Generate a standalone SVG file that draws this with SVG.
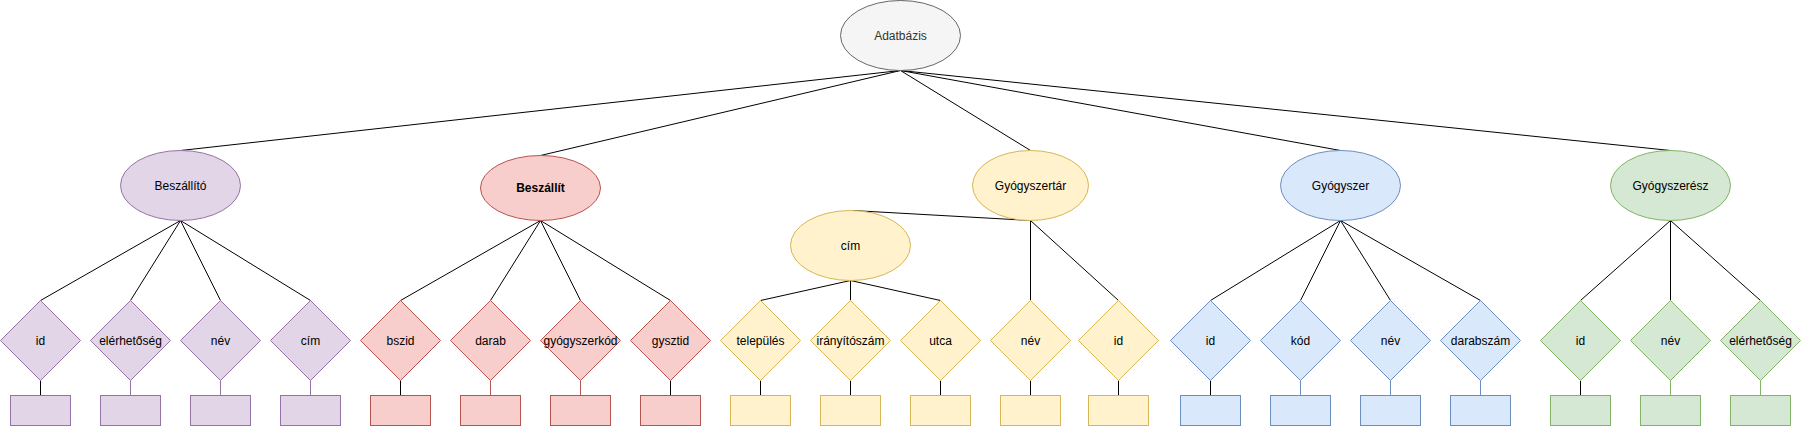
<svg xmlns="http://www.w3.org/2000/svg" width="1801" height="426" viewBox="0 0 1801 426">
<style>
text{font-family:"Liberation Sans",Arial,sans-serif;font-size:12px;fill:#000;text-anchor:middle;dominant-baseline:central}
.e line{stroke:#000;stroke-width:1;fill:none}
.gray{fill:#f5f5f5;stroke:#666666}
.pur{fill:#e1d5e7;stroke:#9673a6}
.red{fill:#f8cecc;stroke:#b85450}
.yel{fill:#fff2cc;stroke:#d6b656}
.blu{fill:#dae8fc;stroke:#6c8ebf}
.grn{fill:#d5e8d4;stroke:#82b366}
.e line.cp{stroke:#9673a6}
.e line.cr{stroke:#b85450}
.e line.cb{stroke:#6c8ebf}
.e line.cg{stroke:#82b366}
</style>
<rect width="1801" height="426" fill="#ffffff"/>
<g id="connectors" class="e">
<line x1="900.5" y1="70.5" x2="180.5" y2="150.5"/>
<line x1="900.5" y1="70.5" x2="540.5" y2="155.5"/>
<line x1="900.5" y1="70.5" x2="1030.5" y2="150.5"/>
<line x1="900.5" y1="70.5" x2="1340.5" y2="150.5"/>
<line x1="900.5" y1="70.5" x2="1670.5" y2="150.5"/>
<line x1="180.5" y1="220.5" x2="40.5" y2="300.5"/>
<line x1="180.5" y1="220.5" x2="130.5" y2="300.5"/>
<line x1="180.5" y1="220.5" x2="220.5" y2="300.5"/>
<line x1="180.5" y1="220.5" x2="310.5" y2="300.5"/>
<line x1="540.5" y1="220.5" x2="400.5" y2="300.5"/>
<line x1="540.5" y1="220.5" x2="490.5" y2="300.5"/>
<line x1="540.5" y1="220.5" x2="580.5" y2="300.5"/>
<line x1="540.5" y1="220.5" x2="670.5" y2="300.5"/>
<line x1="852.5" y1="210.5" x2="1030.5" y2="220.5"/>
<line x1="1030.5" y1="220.5" x2="1030.5" y2="300.5"/>
<line x1="1030.5" y1="220.5" x2="1118.5" y2="300.5"/>
<line x1="850.5" y1="280.5" x2="760.5" y2="300.5"/>
<line x1="850.5" y1="280.5" x2="850.5" y2="300.5"/>
<line x1="850.5" y1="280.5" x2="940.5" y2="300.5"/>
<line x1="1340.5" y1="220.5" x2="1210.5" y2="300.5"/>
<line x1="1340.5" y1="220.5" x2="1300.5" y2="300.5"/>
<line x1="1340.5" y1="220.5" x2="1390.5" y2="300.5"/>
<line x1="1340.5" y1="220.5" x2="1480.5" y2="300.5"/>
<line x1="1670.5" y1="220.5" x2="1580.5" y2="300.5"/>
<line x1="1670.5" y1="220.5" x2="1670.5" y2="300.5"/>
<line x1="1670.5" y1="220.5" x2="1760.5" y2="300.5"/>
<line x1="40.5" y1="380.5" x2="40.5" y2="395.5"/>
<line class="cp" x1="130.5" y1="380.5" x2="130.5" y2="395.5"/>
<line class="cp" x1="220.5" y1="380.5" x2="220.5" y2="395.5"/>
<line class="cp" x1="310.5" y1="380.5" x2="310.5" y2="395.5"/>
<line x1="400.5" y1="380.5" x2="400.5" y2="395.5"/>
<line class="cr" x1="490.5" y1="380.5" x2="490.5" y2="395.5"/>
<line class="cr" x1="580.5" y1="380.5" x2="580.5" y2="395.5"/>
<line x1="670.5" y1="380.5" x2="670.5" y2="395.5"/>
<line x1="760.5" y1="380.5" x2="760.5" y2="395.5"/>
<line x1="850.5" y1="380.5" x2="850.5" y2="395.5"/>
<line x1="940.5" y1="380.5" x2="940.5" y2="395.5"/>
<line x1="1030.5" y1="380.5" x2="1030.5" y2="395.5"/>
<line x1="1118.5" y1="380.5" x2="1118.5" y2="395.5"/>
<line x1="1210.5" y1="380.5" x2="1210.5" y2="395.5"/>
<line class="cb" x1="1300.5" y1="380.5" x2="1300.5" y2="395.5"/>
<line class="cb" x1="1390.5" y1="380.5" x2="1390.5" y2="395.5"/>
<line class="cb" x1="1480.5" y1="380.5" x2="1480.5" y2="395.5"/>
<line x1="1580.5" y1="380.5" x2="1580.5" y2="395.5"/>
<line class="cg" x1="1670.5" y1="380.5" x2="1670.5" y2="395.5"/>
<line class="cg" x1="1760.5" y1="380.5" x2="1760.5" y2="395.5"/>
</g>
<g id="adatbazis"><ellipse class="gray" cx="900.5" cy="35.5" rx="60" ry="35"/><text x="900.5" y="35.5" style="fill:#333333">Adatbázis</text></g>
<g id="beszallito"><ellipse class="pur" cx="180.5" cy="185.5" rx="60" ry="35"/><text x="180.5" y="185.5">Beszállító</text></g>
<g id="beszallit"><ellipse class="red" cx="540.5" cy="188" rx="60" ry="32.5"/><text x="540.5" y="188" font-weight="bold">Beszállít</text></g>
<g id="gyogyszertar"><ellipse class="yel" cx="1030.5" cy="185.5" rx="58" ry="35"/><text x="1030.5" y="185.5">Gyógyszertár</text></g>
<g id="gyt-cim"><ellipse class="yel" cx="850.5" cy="245.5" rx="60" ry="35"/><text x="850.5" y="245.5">cím</text></g>
<g id="gyogyszer"><ellipse class="blu" cx="1340.5" cy="185.5" rx="60" ry="35"/><text x="1340.5" y="185.5">Gyógyszer</text></g>
<g id="gyogyszeresz"><ellipse class="grn" cx="1670.5" cy="185.5" rx="60" ry="35"/><text x="1670.5" y="185.5">Gyógyszerész</text></g>

<g id="b-id"><path class="pur" d="M40.5 300.5L80.5 340.5L40.5 380.5L0.5 340.5Z"/><text x="40.5" y="340.5">id</text><rect class="pur" x="10.5" y="395.5" width="60" height="30"/></g>
<g id="b-elerhetoseg"><path class="pur" d="M130.5 300.5L170.5 340.5L130.5 380.5L90.5 340.5Z"/><text x="130.5" y="340.5">elérhetőség</text><rect class="pur" x="100.5" y="395.5" width="60" height="30"/></g>
<g id="b-nev"><path class="pur" d="M220.5 300.5L260.5 340.5L220.5 380.5L180.5 340.5Z"/><text x="220.5" y="340.5">név</text><rect class="pur" x="190.5" y="395.5" width="60" height="30"/></g>
<g id="b-cim"><path class="pur" d="M310.5 300.5L350.5 340.5L310.5 380.5L270.5 340.5Z"/><text x="310.5" y="340.5">cím</text><rect class="pur" x="280.5" y="395.5" width="60" height="30"/></g>

<g id="r-bszid"><path class="red" d="M400.5 300.5L440.5 340.5L400.5 380.5L360.5 340.5Z"/><text x="400.5" y="340.5">bszid</text><rect class="red" x="370.5" y="395.5" width="60" height="30"/></g>
<g id="r-darab"><path class="red" d="M490.5 300.5L530.5 340.5L490.5 380.5L450.5 340.5Z"/><text x="490.5" y="340.5">darab</text><rect class="red" x="460.5" y="395.5" width="60" height="30"/></g>
<g id="r-gyogyszerkod"><path class="red" d="M580.5 300.5L620.5 340.5L580.5 380.5L540.5 340.5Z"/><text x="580.5" y="340.5">gyógyszerkód</text><rect class="red" x="550.5" y="395.5" width="60" height="30"/></g>
<g id="r-gysztid"><path class="red" d="M670.5 300.5L710.5 340.5L670.5 380.5L630.5 340.5Z"/><text x="670.5" y="340.5">gysztid</text><rect class="red" x="640.5" y="395.5" width="60" height="30"/></g>

<g id="y-telepules"><path class="yel" d="M760.5 300.5L800.5 340.5L760.5 380.5L720.5 340.5Z"/><text x="760.5" y="340.5">település</text><rect class="yel" x="730.5" y="395.5" width="60" height="30"/></g>
<g id="y-iranyitoszam"><path class="yel" d="M850.5 300.5L890.5 340.5L850.5 380.5L810.5 340.5Z"/><text x="850.5" y="340.5">irányítószám</text><rect class="yel" x="820.5" y="395.5" width="60" height="30"/></g>
<g id="y-utca"><path class="yel" d="M940.5 300.5L980.5 340.5L940.5 380.5L900.5 340.5Z"/><text x="940.5" y="340.5">utca</text><rect class="yel" x="910.5" y="395.5" width="60" height="30"/></g>
<g id="y-nev"><path class="yel" d="M1030.5 300.5L1070.5 340.5L1030.5 380.5L990.5 340.5Z"/><text x="1030.5" y="340.5">név</text><rect class="yel" x="1000.5" y="395.5" width="60" height="30"/></g>
<g id="y-id"><path class="yel" d="M1118.5 300.5L1158.5 340.5L1118.5 380.5L1078.5 340.5Z"/><text x="1118.5" y="340.5">id</text><rect class="yel" x="1088.5" y="395.5" width="60" height="30"/></g>

<g id="g-id"><path class="blu" d="M1210.5 300.5L1250.5 340.5L1210.5 380.5L1170.5 340.5Z"/><text x="1210.5" y="340.5">id</text><rect class="blu" x="1180.5" y="395.5" width="60" height="30"/></g>
<g id="g-kod"><path class="blu" d="M1300.5 300.5L1340.5 340.5L1300.5 380.5L1260.5 340.5Z"/><text x="1300.5" y="340.5">kód</text><rect class="blu" x="1270.5" y="395.5" width="60" height="30"/></g>
<g id="g-nev"><path class="blu" d="M1390.5 300.5L1430.5 340.5L1390.5 380.5L1350.5 340.5Z"/><text x="1390.5" y="340.5">név</text><rect class="blu" x="1360.5" y="395.5" width="60" height="30"/></g>
<g id="g-darabszam"><path class="blu" d="M1480.5 300.5L1520.5 340.5L1480.5 380.5L1440.5 340.5Z"/><text x="1480.5" y="340.5">darabszám</text><rect class="blu" x="1450.5" y="395.5" width="60" height="30"/></g>

<g id="s-id"><path class="grn" d="M1580.5 300.5L1620.5 340.5L1580.5 380.5L1540.5 340.5Z"/><text x="1580.5" y="340.5">id</text><rect class="grn" x="1550.5" y="395.5" width="60" height="30"/></g>
<g id="s-nev"><path class="grn" d="M1670.5 300.5L1710.5 340.5L1670.5 380.5L1630.5 340.5Z"/><text x="1670.5" y="340.5">név</text><rect class="grn" x="1640.5" y="395.5" width="60" height="30"/></g>
<g id="s-elerhetoseg"><path class="grn" d="M1760.5 300.5L1800.5 340.5L1760.5 380.5L1720.5 340.5Z"/><text x="1760.5" y="340.5">elérhetőség</text><rect class="grn" x="1730.5" y="395.5" width="60" height="30"/></g>
</svg>
